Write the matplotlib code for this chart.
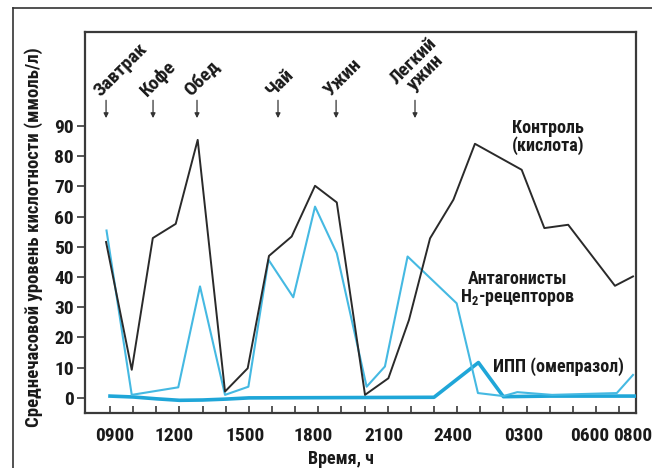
import matplotlib
matplotlib.use("Agg")
import matplotlib.pyplot as plt
from matplotlib import font_manager as fm
from matplotlib.lines import Line2D

# время в часах (24+ = следующие сутки), значения в ммоль/л
control_h = [8.83, 9.94, 10.85, 11.84, 12.79, 13.97, 14.95, 15.87, 16.85, 17.86, 18.8,
             20.02, 21.03, 21.92, 22.83, 23.84, 24.77, 26.79, 27.77, 28.8, 30.82, 31.6]
control_v = [51.6, 9.3, 52.9, 57.6, 85.4, 2.1, 9.8, 47.0, 53.4, 70.2, 64.7,
             1.0, 6.5, 25.8, 52.8, 65.6, 84.1, 75.5, 56.2, 57.3, 37.1, 40.2]

h2_h = [8.85, 9.94, 11.95, 12.89, 13.97, 14.98, 15.85, 16.92, 17.86, 18.8, 20.09,
        20.88, 21.86, 23.98, 24.9, 26.0, 26.6, 28.1, 30.9, 31.6]
h2_v = [55.4, 1.0, 3.5, 36.9, 1.0, 3.7, 45.7, 33.3, 63.3, 47.9, 3.7,
        10.4, 46.8, 31.3, 1.6, 0.6, 1.9, 1.0, 1.6, 7.6]

ppi_h = [9.0, 10.0, 11.0, 12.0, 13.0, 14.0, 15.0, 23.0, 24.92, 26.0, 28.0, 32.0]
ppi_v = [0.6, 0.3, -0.3, -0.8, -0.7, -0.4, 0.0, 0.2, 11.7, 0.4, 0.6, 0.6]

meal_names = ["Завтрак", "Кофе", "Обед", "Чай", "Ужин", "Легкий\nужин"]
meal_times = [8.83, 10.86, 12.76, 16.26, 18.77, 22.18]

tick_pos = [9.2, 11.79, 14.86, 17.77, 20.84, 23.82, 26.89, 29.74, 31.58]
tick_labels = ["0900", "1200", "1500", "1800", "2100", "2400", "0300", "0600", "0800"]
hour_ticks = list(range(9, 32))

# узкий жирный шрифт, если есть
installed = set(f.name for f in fm.fontManager.ttflist)
narrow = [n for n in ["Roboto Condensed", "PT Sans Narrow", "Fira Sans Condensed",
                      "IBM Plex Sans Condensed", "Liberation Sans Narrow"] if n in installed]
FONT = narrow[:1] + ["DejaVu Sans"]
plt.rcParams["font.family"] = FONT
plt.rcParams["font.weight"] = "bold"
plt.rcParams["mathtext.fontset"] = "custom"
plt.rcParams["mathtext.bf"] = FONT[0] + ":bold"
plt.rcParams["mathtext.rm"] = FONT[0] + ":bold"

TXT = "#1a1a1a"
SPINE = "#3a3a3a"

fig = plt.figure(figsize=(6.52, 4.68), dpi=100)
ax = fig.add_axes([85 / 652, 55 / 468, 551 / 652, 381.3 / 468])

# рамка вокруг рисунка (видны только левая и верхняя линии)
fig.add_artist(Line2D([13 / 652, 13 / 652], [0, 1 - 8 / 468], color="#333333", lw=1.2))
fig.add_artist(Line2D([13 / 652, 1], [1 - 8 / 468, 1 - 8 / 468], color="#333333", lw=1.2))

ax.plot(ppi_h, ppi_v, color="#1fa6d8", lw=2.6, zorder=3)
ax.plot(h2_h, h2_v, color="#45b9e2", lw=1.5, zorder=4)
ax.plot(control_h, control_v, color="#2a2a2a", lw=1.4, zorder=5)

ax.set_xlim(7.92, 31.73)
ax.set_ylim(-5, 121.2)

ax.set_yticks(range(0, 100, 10))
ax.tick_params(axis="y", direction="out", length=6, width=1.2, color=SPINE,
               labelsize=14, labelcolor=TXT, pad=2)
ax.set_xticks(tick_pos)
ax.set_xticklabels(tick_labels)
ax.set_xticks(hour_ticks, minor=True)
ax.tick_params(axis="x", which="major", length=0, labelsize=14, labelcolor=TXT, pad=10)
ax.tick_params(axis="x", which="minor", direction="in", length=5, width=1.2, color=SPINE)
for lab in ax.get_xticklabels() + ax.get_yticklabels():
    lab.set_fontweight("bold")

for sp in ax.spines.values():
    sp.set_color(SPINE)
    sp.set_linewidth(1.6)

ax.set_ylabel("Среднечасовой уровень кислотности (ммоль/л)", fontsize=13.5,
              fontweight="bold", color=TXT)
ax.yaxis.set_label_coords(-0.076, 0.46)
ax.set_xlabel("Время, ч", fontsize=13, fontweight="bold", color=TXT)
ax.xaxis.set_label_coords((341 - 85) / 551, -0.098)

# приёмы пищи
for name, t in zip(meal_names, meal_times):
    ax.annotate("", xy=(t, 92.6), xytext=(t, 98.5),
                arrowprops=dict(arrowstyle="-|>", color="#333333", lw=0.9,
                                mutation_scale=7, shrinkA=0, shrinkB=0))
    ax.annotate(name, xy=(t, 99.5), xytext=(-4, 0), textcoords="offset points",
                rotation=45, rotation_mode="anchor", ha="left", va="baseline",
                multialignment="center", fontsize=14, fontweight="bold",
                color=TXT, linespacing=0.9)

fig.text(512 / 652, 1 - 137 / 468, "Контроль\n(кислота)", fontsize=13,
         fontweight="bold", color=TXT, ha="left", va="center", linespacing=1.0)
fig.text(518 / 652, 1 - 289 / 468, "Антагонисты\nH$_\\mathbf{2}$-рецепторов", fontsize=13,
         fontweight="bold", color=TXT, ha="center", va="center", linespacing=1.0)
fig.text(558 / 652, 1 - 367 / 468, "ИПП (омепразол)", fontsize=13,
         fontweight="bold", color=TXT, ha="center", va="center")

fig.savefig("out.png", dpi=100)
